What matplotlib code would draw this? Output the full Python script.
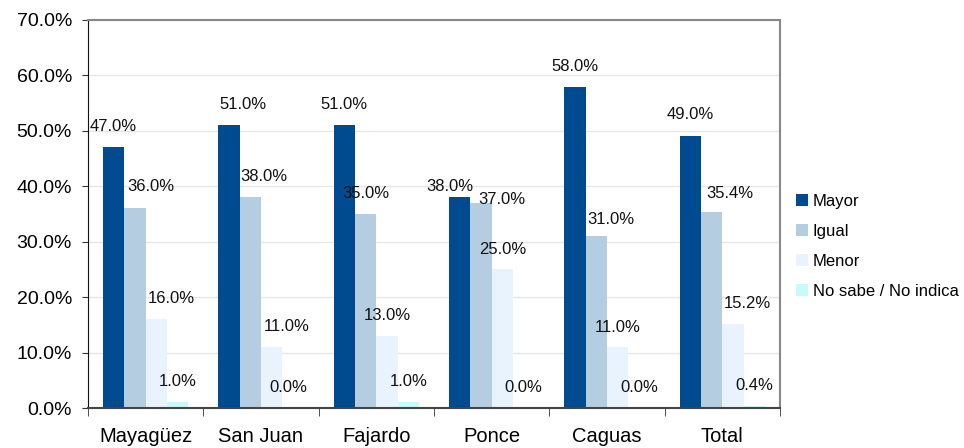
import matplotlib.pyplot as plt
import numpy as np
from matplotlib.patches import Patch

plt.rcParams['font.family'] = ['Liberation Sans', 'DejaVu Sans']

categories = ['Mayagüez', 'San Juan', 'Fajardo', 'Ponce', 'Caguas', 'Total']
series_names = ['Mayor', 'Igual', 'Menor', 'No sabe / No indica']
mayor = [47.0, 51.0, 51.0, 38.0, 58.0, 49.0]
igual = [36.0, 38.0, 35.0, 37.0, 31.0, 35.4]
menor = [16.0, 11.0, 13.0, 25.0, 11.0, 15.2]
no_sabe = [1.0, 0.0, 1.0, 0.0, 0.0, 0.4]
colors = ['#004A8F', '#B4CDE0', '#E8F3FD', '#C8FAFA']

# hand-placed value labels: horizontal shift and baseline height above the bar (pixels)
label_dx = [
    [0, 14, 0, -10, 0, 0],
    [16, 14, 0, 21, 15, 18],
    [15, 15, 0, 0, 0, 14],
    [0, -5, 0, 0, 0, 0],
]
label_dy = [
    [16, 16, 16, 6, 16, 17],
    [17, 16, 16, -1, 12, 14],
    [16, 16, 16, 15, 15, 16],
    [16, 16, 16, 16, 16, 16],
]

fig = plt.figure(figsize=(9.64, 4.48), dpi=100)
ax = fig.add_axes([88 / 964, 40 / 448, (780 - 88) / 964, (408 - 20) / 448])

x = np.arange(len(categories))
w = 0.185
series = [mayor, igual, menor, no_sabe]
for i, (vals, c) in enumerate(zip(series, colors)):
    pos = x + (i - 1.5) * w
    ax.bar(pos, vals, width=w, color=c, zorder=2)
    for j, (p, v) in enumerate(zip(pos, vals)):
        ax.annotate(f'{v:.1f}%', (p, v), xytext=(label_dx[i][j], label_dy[i][j]),
                    textcoords='offset pixels', ha='center', va='baseline',
                    fontsize=12, color='#111111', zorder=3)

ax.set_xlim(-0.5, len(categories) - 0.5)
ax.set_ylim(0, 70)
ticks = np.arange(0, 71, 10)
ax.set_yticks(ticks)
ax.set_yticklabels([f'{t:.1f}%' for t in ticks], fontsize=14)
ax.yaxis.grid(True, color='#E6E6E6', linewidth=1, zorder=0)
ax.set_axisbelow(True)

ax.set_xticks(x)
ax.set_xticklabels(categories, fontsize=14.5)
ax.tick_params(axis='x', length=0, pad=14)
ax.set_xticks(np.arange(-0.5, len(categories)), minor=True)
ax.tick_params(axis='x', which='minor', length=6, direction='out', color='#333333')
ax.tick_params(axis='y', length=4.5, direction='out', color='#333333', pad=7)

for s in ['top', 'right']:
    ax.spines[s].set_color('#888888')
    ax.spines[s].set_linewidth(1.5)
ax.spines['left'].set_color('#111111')
ax.spines['bottom'].set_color('#444444')
ax.spines['bottom'].set_linewidth(1.5)

handles = [Patch(facecolor=c, edgecolor='none') for c in colors]
fig.legend(handles, series_names, loc='upper left', bbox_to_anchor=(784 / 964, 1 - 182 / 448),
           frameon=False, fontsize=12, handlelength=0.72, handleheight=0.72,
           handletextpad=0.3, labelspacing=0.9, borderpad=0.2)

fig.savefig('out.png', dpi=100)
